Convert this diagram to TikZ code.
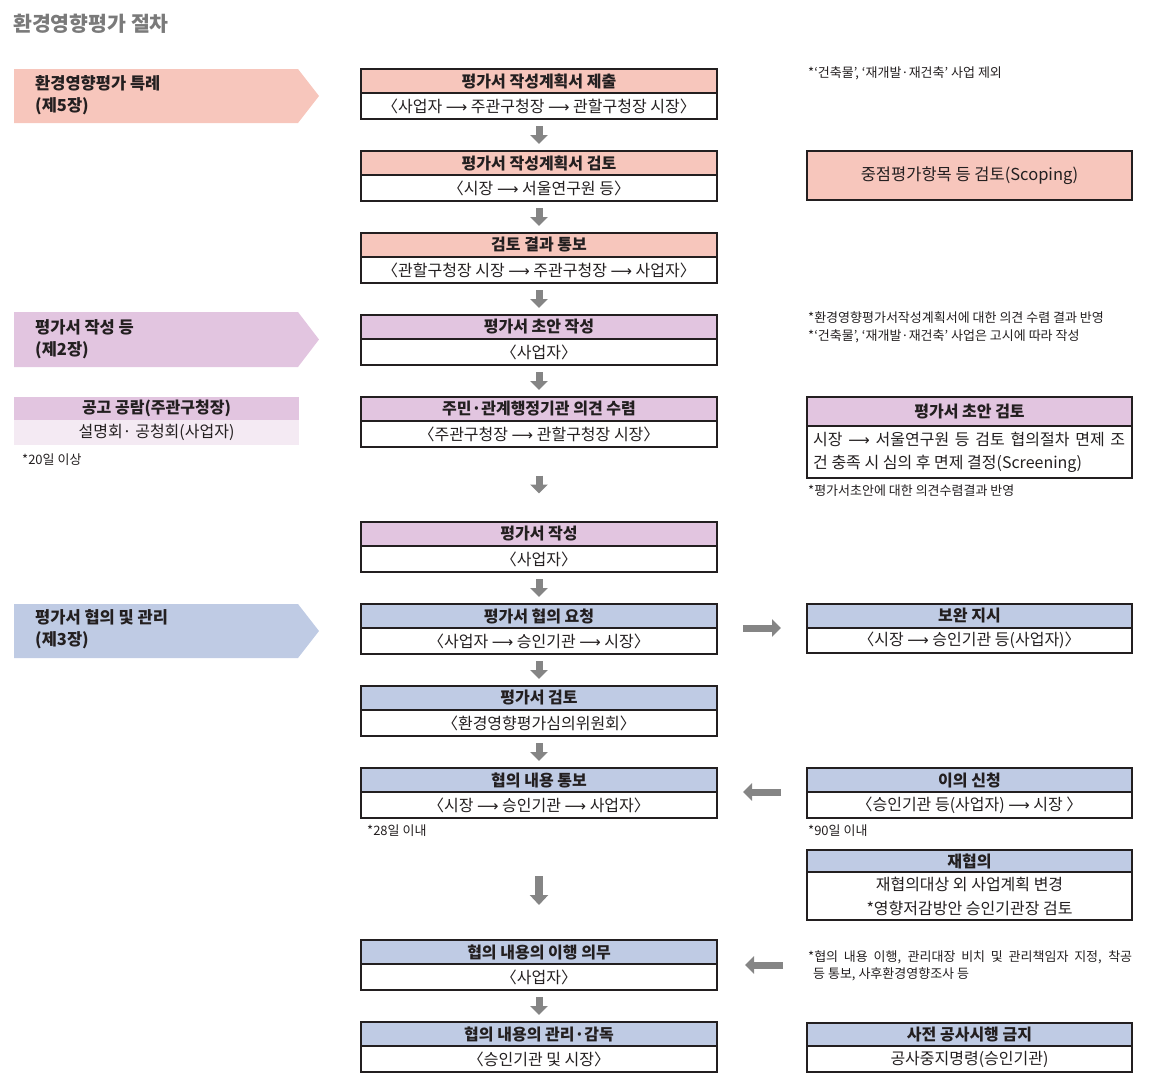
\documentclass[tikz,border=0pt]{standalone}
\usepackage{fontspec}
\setmainfont{Noto Sans CJK KR}
\newfontfamily\dv{DejaVu Sans}
\usetikzlibrary{arrows.meta,calc}
\definecolor{pinkc}{HTML}{F7C6BC}
\definecolor{purpc}{HTML}{E2C5E0}
\definecolor{bluec}{HTML}{BFCBE4}
\definecolor{lpurp}{HTML}{F4EAF3}
\definecolor{lc}{HTML}{231F20}
\definecolor{agray}{HTML}{858585}
\definecolor{titlegray}{HTML}{7A7A7A}
\newcommand\la{{\dv\fontsize{15}{15}\selectfont ⟶}}
\tikzset{
  hd/.style={draw=lc, line width=1.1pt, outer sep=0pt, minimum width=356pt, minimum height=24pt, inner sep=0pt, font=\bfseries\fontsize{16}{18}\selectfont, text=lc},
  bd/.style={draw=lc, line width=1.1pt, outer sep=0pt, fill=white, minimum width=356pt, minimum height=26pt, inner sep=0pt, align=center, font=\fontsize{16}{24}\selectfont, text=lc},
  note/.style={anchor=west, inner sep=0pt, align=left, font=\fontsize{13}{18}\selectfont, text=lc},
  bann/.style={anchor=west, inner sep=0pt, align=left, font=\bfseries\fontsize{16.5}{22}\selectfont, text=lc},
  garrow/.style={draw=agray, line width=7pt, -{Triangle[length=9pt,width=17pt]}},
}
\newcommand\cboxx[5]{%
  \node[hd, fill=#3] (#1h) at (539,#2+12) {#4};
  \node[bd, anchor=north] (#1b) at (#1h.south) {#5};}
% name, ytop, header height, body height, colour, header, body (heights are plain numbers)
\newcommand\rboxx[7]{%
  \node[hd, fill=#5, minimum width=325pt, minimum height=#3pt] (#1h) at (969.5,#2+#3/2) {#6};
  \node[bd, anchor=north, minimum width=325pt, minimum height=#4pt] (#1b) at (#1h.south) {#7};}
\begin{document}
\begin{tikzpicture}[x=1pt,y=-1pt]
\useasboundingbox (0,0) rectangle (1152,1090);

% title
\node[anchor=west, inner sep=0pt, text=titlegray, font=\bfseries\fontsize{20.5}{22}\selectfont] (title) at (13,24) {환경영향평가 절차};

% left banners
\fill[pinkc] (14,69) -- (298,69) -- (319,96) -- (298,123) -- (14,123) -- cycle;
\node[bann] (ban1) at (35,95) {환경영향평가 특례\\(제5장)};
\fill[purpc] (14,312) -- (298,312) -- (319,339.5) -- (298,367) -- (14,367) -- cycle;
\node[bann] (ban2) at (35,339) {평가서 작성 등\\(제2장)};
\fill[bluec] (14,604) -- (298,604) -- (319,631) -- (298,658) -- (14,658) -- cycle;
\node[bann] (ban3) at (35,629) {평가서 협의 및 관리\\(제3장)};

% left box
\node[fill=purpc, minimum width=285pt, minimum height=23pt, inner sep=0pt, outer sep=0pt, text=lc, font=\bfseries\fontsize{16}{18}\selectfont] (lh) at (156.5,408.5) {공고 공람(주관구청장)};
\node[fill=lpurp, minimum width=285pt, minimum height=25pt, inner sep=0pt, outer sep=0pt, text=lc, font=\fontsize{16}{18}\selectfont, anchor=north] (lb) at (lh.south) {설명회· 공청회(사업자)};
\node[note] (n5) at (22,460) {*20일 이상};

% center boxes
\cboxx{c1}{69}{pinkc}{평가서 작성계획서 제출}{〈사업자 \la{} 주관구청장 \la{} 관할구청장 시장〉}
\cboxx{c2}{151}{pinkc}{평가서 작성계획서 검토}{〈시장 \la{} 서울연구원 등〉}
\cboxx{c3}{233}{pinkc}{검토 결과 통보}{〈관할구청장 시장 \la{} 주관구청장 \la{} 사업자〉}
\cboxx{c4}{315}{purpc}{평가서 초안 작성}{〈사업자〉}
\cboxx{c5}{397}{purpc}{주민·관계행정기관 의견 수렴}{〈주관구청장 \la{} 관할구청장 시장〉}
\cboxx{c6}{522}{purpc}{평가서 작성}{〈사업자〉}
\cboxx{c7}{604}{bluec}{평가서 협의 요청}{〈사업자 \la{} 승인기관 \la{} 시장〉}
\cboxx{c8}{686}{bluec}{평가서 검토}{〈환경영향평가심의위원회〉}
\cboxx{c9}{768}{bluec}{협의 내용 통보}{〈시장 \la{} 승인기관 \la{} 사업자〉}
\cboxx{c10}{940}{bluec}{협의 내용의 이행 의무}{〈사업자〉}
\cboxx{c11}{1022}{bluec}{협의 내용의 관리·감독}{〈승인기관 및 시장〉}
\node[note] (n6) at (367,831) {*28일 이내};

% right side
\node[note] (n1) at (808,73) {*‘건축물’, ‘재개발·재건축’ 사업 제외};
\node[draw=lc, line width=1.1pt, outer sep=0pt, fill=pinkc, minimum width=325pt, minimum height=49pt, inner sep=0pt, text=lc, font=\fontsize{16.5}{18}\selectfont] (r1) at (969.5,175.5) {중점평가항목 등 검토(Scoping)};
\node[note] (n2) at (808,327) {*환경영향평가서작성계획서에 대한 의견 수렴 결과 반영\\*‘건축물’, ‘재개발·재건축’ 사업은 고시에 따라 작성};
\rboxx{r2}{397}{29}{52}{purpc}{평가서 초안 검토}{}
\node[anchor=west, inner sep=0pt, align=left, text=lc, font=\fontsize{16}{23}\selectfont] (r2t) at ([xshift=6pt]r2b.west) {\makebox[312pt][s]{시장 \la{} 서울연구원 등 검토 협의절차 면제 조}\\건 충족 시 심의 후 면제 결정(Screening)};
\node[note] (n4) at (808,491) {*평가서초안에 대한 의견수렴결과 반영};
\rboxx{r3}{604}{24}{25}{bluec}{보완 지시}{〈시장 \la{} 승인기관 등(사업자)〉}
\rboxx{r4}{768}{24}{26}{bluec}{이의 신청}{〈승인기관 등(사업자) \la{} 시장 〉}
\node[note] (n7) at (808,831) {*90일 이내};
\rboxx{r5}{850}{22}{48}{bluec}{재협의}{재협의대상 외 사업계획 변경\\*영향저감방안 승인기관장 검토}
\node[note, font=\fontsize{13}{17}\selectfont] (n8) at (808,966) {\makebox[324pt][s]{*협의 내용 이행, 관리대장 비치 및 관리책임자 지정, 착공}\\\hspace*{5pt}등 통보, 사후환경영향조사 등};
\rboxx{r6}{1023}{23}{26}{bluec}{사전 공사시행 금지}{공사중지명령(승인기관)}

% down arrows
\foreach \a/\b in {c1/c2,c2/c3,c3/c4,c4/c5,c5/c6,c6/c7,c7/c8,c8/c9,c10/c11}{
  \draw[garrow] ($(\a b.south)!.5!(\b h.north)$) ++(0,-9) -- ++(0,18);
}
\draw[draw=agray, line width=8pt, -{Triangle[length=10pt,width=18pt]}] ([yshift=-58pt]c9b.south) -- ([yshift=-87pt]c9b.south);

% horizontal arrows
\draw[garrow] ($(c7b.north east)!.5!(r3b.north west)$) ++(-19,0) -- ++(38,0);
\draw[garrow] ($(r4h.south west)!.5!(c9h.south east)$) ++(19,0) -- ++(-38,0);
\draw[garrow] ($(c10h.south east)+(47,1)$) ++(19,0) -- ++(-38,0);
\end{tikzpicture}
\end{document}
